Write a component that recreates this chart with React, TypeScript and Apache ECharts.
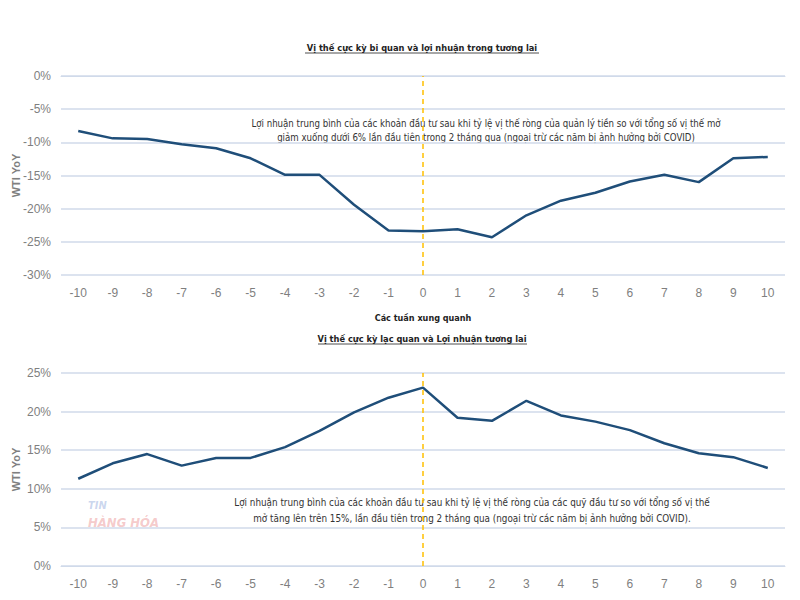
import React, { useEffect, useRef } from "react";
import * as echarts from "echarts";

const weeks = ["-10","-9","-8","-7","-6","-5","-4","-3","-2","-1","0","1","2","3","4","5","6","7","8","9","10"];
const bearishReturns = [-8.3,-9.4,-9.5,-10.3,-10.9,-12.4,-14.9,-14.9,-19.4,-23.3,-23.4,-23.1,-24.3,-21.0,-18.8,-17.6,-15.9,-14.9,-16.0,-12.4,-12.2];
const bullishReturns = [11.3,13.3,14.5,13.0,14.0,14.0,15.4,17.5,19.9,21.8,23.1,19.2,18.8,21.4,19.5,18.7,17.6,15.9,14.6,14.1,12.7];
const title1 = "Vị thế cực kỳ bi quan và lợi nhuận trong tương lai";
const title2 = "Vị thế cực kỳ lạc quan và Lợi nhuận tương lai";
const xName = "Các tuần xung quanh";
const yName = "WTI YoY";
const note1 = "Lợi nhuận trung bình của các khoản đầu tư sau khi tỷ lệ vị thế ròng của quản lý tiền so với tổng số vị thế mở\ngiảm xuống dưới 6% lần đầu tiên trong 2 tháng qua (ngoại trừ các năm bị ảnh hưởng bởi COVID)";
const note2 = "Lợi nhuận trung bình của các khoản đầu tư sau khi tỷ lệ vị thế ròng của các quỹ đầu tư so với tổng số vị thế\nmở tăng lên trên 15%, lần đầu tiên trong 2 tháng qua (ngoại trừ các năm bị ảnh hưởng bởi COVID).";

const FONT = "'DejaVu Sans Condensed', 'Liberation Sans', sans-serif";
const AX_FONT = "'Liberation Sans', Arial, sans-serif";
const LABEL = "#7F7F7F";
const GRID = "#D0DAEA";
const LINE = "#1F4E79";
const ORANGE = "#FFC000";

export default function App() {
  const ref = useRef<HTMLDivElement>(null);
  useEffect(() => {
    const chart = echarts.init(ref.current!, null, { renderer: "svg" });
    const xAxisBase = (gridIndex: number) => ({
      type: "category",
      gridIndex,
      data: weeks,
      boundaryGap: true,
      axisLine: { show: true, lineStyle: { color: GRID, width: 1 } },
      axisTick: { show: false },
      axisLabel: { color: LABEL, fontSize: 12, fontFamily: AX_FONT, margin: 12 },
    });
    const yAxisBase = (gridIndex: number, min: number, max: number) => ({
      type: "value",
      gridIndex,
      min,
      max,
      interval: 5,
      name: yName,
      nameLocation: "middle",
      nameGap: 40,
      nameMoveOverlap: false,
      nameTextStyle: { color: LABEL, fontSize: 11, fontWeight: "bold", fontFamily: AX_FONT },
      axisLine: { show: false },
      axisTick: { show: false },
      axisLabel: { color: LABEL, fontSize: 12, fontFamily: AX_FONT, formatter: "{value}%", margin: 10 },
      splitLine: { lineStyle: { color: GRID, width: 1.5 } },
    });
    const markLine = {
      silent: true,
      symbol: "none",
      label: { show: false },
      lineStyle: { color: ORANGE, type: [5, 4], width: 1.5 },
      data: [{ xAxis: "0" }],
    };
    chart.setOption({
      animation: false,
      backgroundColor: "#ffffff",
      grid: [
        { left: 61, right: 15, top: 76, height: 199, containLabel: false, outerBoundsMode: "none" },
        { left: 61, right: 15, top: 373, height: 193, containLabel: false, outerBoundsMode: "none" },
      ],
      xAxis: [
        { ...xAxisBase(0), name: xName, nameLocation: "middle", nameGap: 38, nameMoveOverlap: false, nameTextStyle: { color: "#222", fontSize: 9, fontWeight: "bold", fontFamily: FONT } },
        xAxisBase(1),
      ],
      yAxis: [yAxisBase(0, -30, 0), yAxisBase(1, 0, 25)],
      series: [
        {
          type: "line",
          xAxisIndex: 0,
          yAxisIndex: 0,
          data: bearishReturns,
          symbol: "none",
          lineStyle: { color: LINE, width: 2.5 },
          markLine,
        },
        {
          type: "line",
          xAxisIndex: 1,
          yAxisIndex: 1,
          data: bullishReturns,
          symbol: "none",
          lineStyle: { color: LINE, width: 2.5 },
          markLine,
        },
      ],
      graphic: [
        { type: "text", x: 422, y: 47, style: { text: title1, fill: "#222", font: `bold 9.2px ${FONT}`, textAlign: "center", textVerticalAlign: "middle" } },
        { type: "line", shape: { x1: 305, y1: 53, x2: 539, y2: 53 }, style: { stroke: "#222", lineWidth: 0.8 } },
        { type: "text", x: 422, y: 338, style: { text: title2, fill: "#222", font: `bold 9.2px ${FONT}`, textAlign: "center", textVerticalAlign: "middle" } },
        { type: "line", shape: { x1: 318, y1: 344, x2: 527, y2: 344 }, style: { stroke: "#222", lineWidth: 0.8 } },
        { type: "text", x: 486, y: 130, style: { text: note1, fill: "#333", font: `9.6px ${FONT}`, textAlign: "center", textVerticalAlign: "middle", lineHeight: 14 } },
        { type: "rect", shape: { x: 225, y: 494, width: 520, height: 34 }, style: { fill: "#ffffff" } },
        { type: "text", x: 472, y: 510, style: { text: note2, fill: "#333", font: `9.8px ${FONT}`, textAlign: "center", textVerticalAlign: "middle", lineHeight: 16 } },
        { type: "text", x: 88, y: 500, style: { text: "TIN", fill: "rgba(120,150,210,0.4)", font: `italic bold 11px ${FONT}` } },
        { type: "text", x: 88, y: 516, style: { text: "HÀNG HÓA", fill: "rgba(230,120,120,0.4)", font: `italic bold 13px ${FONT}` } },
      ],
    });
    return () => chart.dispose();
  }, []);
  return <div ref={ref} style={{ position: "absolute", left: 0, top: 0, width: 800, height: 600 }} />;
}
